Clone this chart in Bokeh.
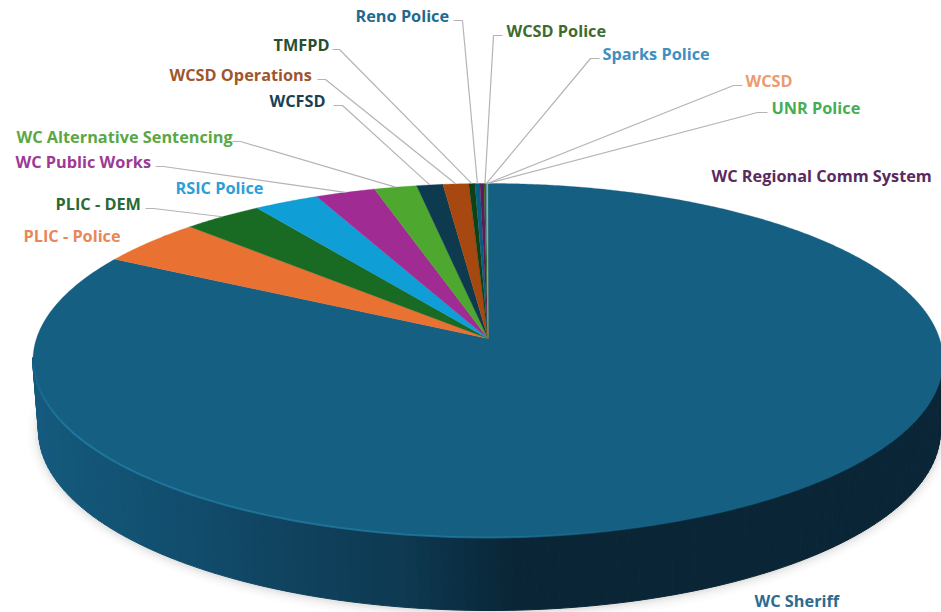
import numpy as np
from bokeh.plotting import figure
from bokeh.models import Range1d, ColumnDataSource
from bokeh.core.properties import value
from bokeh.embed import file_html
from bokeh.resources import INLINE

# ---- data (share of total) ----
categories = ["WC Sheriff", "PLIC - Police", "PLIC - DEM", "RSIC Police", "WC Public Works",
              "WC Alternative Sentencing", "WCFSD", "WCSD Operations", "TMFPD", "Reno Police",
              "WC Regional Comm System", "WCSD Police", "Sparks Police", "WCSD", "UNR Police"]
shares = [83.0, 4.25, 3.2, 2.6, 2.4, 1.7, 1.05, 1.03, 0.24, 0.2, 0.16, 0.08, 0.04, 0.02, 0.02]
slice_colors = ["#156082", "#E97132", "#196B24", "#0F9ED5", "#A02B93", "#4EA72E", "#0D3A4E",
                "#A6480F", "#0F4016", "#095F80", "#601A58", "#2F641B", "#3F8FB0", "#ED9C6F", "#7FB26A"]
label_colors = ["#2F6A8F", "#E8875A", "#2A6A35", "#2A9FD8", "#9C3A95", "#5AA845", "#1B3F55",
                "#A0562D", "#2A4F30", "#1F6A90", "#5A2A5F", "#3E6B2F", "#3F8FC0", "#EC9A70", "#45AD55"]

# ---- label layout: text left edge, text centre y ----
label_pos = {
    "WC Sheriff": (754, 600), "PLIC - Police": (23, 235), "PLIC - DEM": (55, 203),
    "RSIC Police": (175, 187), "WC Public Works": (15, 161), "WC Alternative Sentencing": (16, 136),
    "WCFSD": (269, 100), "WCSD Operations": (169, 74), "TMFPD": (273, 44), "Reno Police": (355, 15),
    "WC Regional Comm System": (711, 175), "WCSD Police": (506, 30), "Sparks Police": (602, 53),
    "WCSD": (745, 80), "UNR Police": (771, 107),
}
# ---- leader elbows: start of line next to the text, elbow ----
leaders = {
    "PLIC - DEM": (145, 153, 208), "WC Public Works": (155, 163, 166),
    "WC Alternative Sentencing": (232, 240, 141), "WCFSD": (333, 342, 105),
    "WCSD Operations": (317, 325, 79), "TMFPD": (332, 339, 49), "Reno Police": (453, 462, 20),
    "WCSD Police": (502, 493, 35), "Sparks Police": (599, 590, 58),
    "WCSD": (742, 733, 85), "UNR Police": (767, 757, 112),
}

# ---- geometry of the tilted pie (perspective disc drawn in page pixels) ----
APEX_X, APEX_Y, A, B, K = 487.5, 338.0, 451.5, 174.3, 0.1243


def rim(theta):
    c = 1 + K * np.cos(theta)
    return APEX_X + A * np.sin(theta) / c, APEX_Y - B * np.cos(theta) / c


vals = np.array(shares, dtype=float)
edges = np.concatenate([[0], np.cumsum(vals) / vals.sum() * 2 * np.pi])

p = figure(width=941, height=612, x_range=Range1d(0, 941), y_range=Range1d(612, 0),
           output_backend="svg", toolbar_location=None, min_border=0)
p.axis.visible = False
p.grid.visible = False
p.outline_line_color = None
p.background_fill_color = "#ffffff"
p.border_fill_color = "#ffffff"

# soft shadow under the disc
for i, (grow, alpha) in enumerate([(22, 0.02), (16, 0.025), (11, 0.03), (7, 0.04), (3, 0.05)]):
    p.ellipse(x=[489], y=[431], width=[902 + grow], height=[360 + grow], fill_color="#555555",
              fill_alpha=alpha, line_color=None)

# side wall: vertical bands following the front rim
stops_x = [32, 60, 200, 300, 400, 460, 510, 941]
stops_rgb = np.array([[0x15, 0x5A, 0x80], [0x14, 0x58, 0x7A], [0x12, 0x4C, 0x6C], [0x10, 0x42, 0x5E],
                      [0x0E, 0x3A, 0x52], [0x0B, 0x2F, 0x44], [0x0A, 0x27, 0x37], [0x0B, 0x26, 0x36]])
phi = np.linspace(np.pi, 2 * np.pi, 121)
tx = 487 + 455 * np.cos(phi)
ty = 360 - 177 * np.sin(phi)
bx = 489 + 451 * np.cos(phi)
by = 430 - 180 * np.sin(phi)
sx, sy, sc = [], [], []
for i in range(len(phi) - 1):
    sx.append([tx[i], tx[i + 1], bx[i + 1], bx[i]])
    sy.append([ty[i] - 3, ty[i + 1] - 3, by[i + 1], by[i]])
    mid = (tx[i] + tx[i + 1]) / 2
    rgb = [int(np.interp(mid, stops_x, stops_rgb[:, j])) for j in range(3)]
    sc.append("#%02x%02x%02x" % tuple(rgb))
p.patches(xs=sx, ys=sy, fill_color=sc, line_color=sc, line_width=1)

# top face: one patch per slice
xs, ys = [], []
for a, b in zip(edges[:-1], edges[1:]):
    t = np.linspace(a, b, max(3, int((b - a) * 120)))
    rx, ry = rim(t)
    xs.append(np.concatenate([[APEX_X], rx]).tolist())
    ys.append(np.concatenate([[APEX_Y], ry]).tolist())
p.patches(xs="xs", ys="ys", fill_color="color", line_color="color", line_width=0.3,
          source=ColumnDataSource(dict(xs=xs, ys=ys, color=slice_colors)))

# light catching the front-left rim
phi_h = np.linspace(np.pi + 0.02, 1.62 * np.pi, 60)
hx = 487 + 454 * np.cos(phi_h)
hy = 360 - 177 * np.sin(phi_h)
ha = np.interp(phi_h, [np.pi, 1.12 * np.pi, 1.5 * np.pi, 1.62 * np.pi], [0.15, 0.7, 0.6, 0.0])
p.multi_line(xs=[[hx[i], hx[i + 1]] for i in range(59)], ys=[[hy[i], hy[i + 1]] for i in range(59)],
             line_color="#2583AB", line_alpha=ha[:-1].tolist(), line_width=2)

# leader lines end at the middle of their slice on the rim
mids = dict(zip(categories, (edges[:-1] + edges[1:]) / 2))
lx, ly = [], []
for name, (x0, x1, y0) in leaders.items():
    ex, ey = rim(mids[name])
    lx.append([x0, x1, float(ex)])
    ly.append([y0, y0, float(ey)])
p.multi_line(xs=lx, ys=ly, line_color="#b4b4b4", line_width=1.2)

# labels
p.text(x=[label_pos[c][0] for c in categories], y=[label_pos[c][1] for c in categories],
       text=categories, text_color=label_colors, text_font=value("Open Sans"),
       text_font_style="bold", text_font_size="16.3px", text_align="left", text_baseline="middle")

open("out.html", "w").write(file_html(p, INLINE))
